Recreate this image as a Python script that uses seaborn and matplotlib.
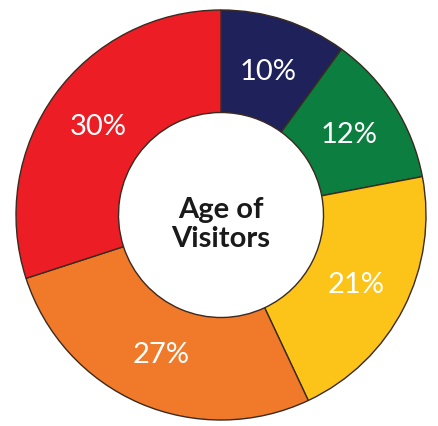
import matplotlib
matplotlib.use('Agg')
import matplotlib.pyplot as plt
import seaborn as sns

# data
age_groups = ['Group 1', 'Group 2', 'Group 3', 'Group 4', 'Group 5']
shares = [10, 12, 21, 27, 30]
slice_colors = ['#1f215a', '#0b7e40', '#fcc318', '#f07a29', '#ec1d25']

sns.set_theme(style='white')
plt.rcParams['font.family'] = ['Lato', 'DejaVu Sans']

fig = plt.figure(figsize=(4.38, 4.27), dpi=100)
ax = fig.add_axes([0, 0, 1, 1])

wedges, texts, autotexts = ax.pie(
    shares, colors=slice_colors, startangle=90, counterclock=False,
    radius=1.0, autopct='%d%%', pctdistance=0.74,
    wedgeprops=dict(width=0.5, edgecolor='#3a2a20', linewidth=1.0),
    textprops=dict(color='white', fontsize=21))

ax.text(0, -0.04, 'Age of\nVisitors', ha='center', va='center',
        fontsize=21, fontweight='bold', color='#1a1a1a', linespacing=1.15)

ax.set_xlim(-221 / 205, 217 / 205)
ax.set_ylim(-211 / 205, 216 / 205)
ax.set_aspect('auto')
ax.axis('off')

plt.savefig('out.png', dpi=100)
plt.close()
